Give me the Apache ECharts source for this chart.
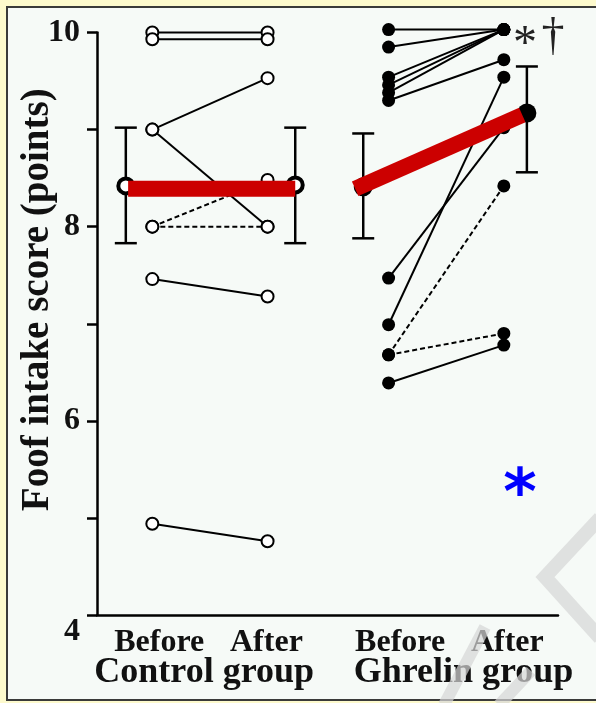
<!DOCTYPE html>
<html>
<head>
<meta charset="utf-8">
<script src="https://cdn.jsdelivr.net/npm/echarts@6/dist/echarts.min.js"></script>
<style>
html,body{margin:0;padding:0;background:#fdfacd;}
#chart{width:596px;height:703px;}
</style>
</head>
<body>
<div id="chart"></div>
<script>
// ---- data ----
const xTickLabels = ['Before', 'After', 'Before', 'After'];
const xTickPos = [0.54, 1.47, 2.63, 3.56];
const groupLabels = ['Control group', 'Ghrelin group'];
const groupLabelPos = [0.93, 3.18];
const yTickValues = [4, 5, 6, 7, 8, 9, 10];
const yTickLabels = ['4', '', '6', '', '8', '', '10'];

// x position of each time point (control before, control after, ghrelin before, ghrelin after)
const timeX = [0.48, 1.48, 2.53, 3.53];

const controlBefore = [10.0, 9.93, 9.0, 9.0, 8.0, 8.0, 7.46, 4.94];
const controlAfter  = [10.0, 9.93, 9.53, 8.0, 8.48, 8.0, 7.28, 4.76];
const controlDashed = [0, 0, 0, 0, 1, 1, 0, 0];

const ghrelinBefore = [10.03, 9.85, 9.54, 9.46, 9.38, 9.30, 7.47, 6.99, 6.68, 6.68, 6.39];
const ghrelinAfter  = [10.03, 10.03, 10.03, 10.03, 10.03, 9.72, 9.02, 9.54, 8.42, 6.90, 6.78];
const ghrelinDashed = [0, 0, 0, 0, 0, 0, 0, 0, 1, 1, 0];

// group means with error bars: control before, control after, ghrelin before, ghrelin after
const meanX    = [0.25, 1.72, 2.31, 3.73];
const meanVal  = [8.42, 8.43, 8.41, 9.17];
const errLow   = [7.83, 7.83, 7.88, 8.56];
const errHigh  = [9.02, 9.02, 8.96, 9.65];
const meanFilled = [0, 0, 0, 1];

// red overlay bars
const redControl = [[0.27, 8.39], [1.72, 8.39]];
const redGhrelin = [[2.24, 8.39], [3.69, 9.15]];

// ---- chart ----
const FONT = 'Liberation Serif';
const chart = echarts.init(document.getElementById('chart'), null, {renderer: 'canvas'});

function nearestLabel(v, pos, labels) {
  let best = 0;
  for (let i = 1; i < pos.length; i++) if (Math.abs(pos[i] - v) < Math.abs(pos[best] - v)) best = i;
  return labels[best];
}

const series = [];
function addSubjects(before, after, dashed, xb, xa) {
  for (let i = 0; i < before.length; i++) {
    series.push({
      type: 'line', xAxisIndex: 0, yAxisIndex: 0, clip: false, silent: true,
      symbol: 'none', z: 2,
      data: [[xb, before[i]], [xa, after[i]]],
      lineStyle: {color: '#000', width: 2, type: dashed[i] ? [5, 3] : 'solid'}
    });
  }
}
addSubjects(controlBefore, controlAfter, controlDashed, timeX[0], timeX[1]);
addSubjects(ghrelinBefore, ghrelinAfter, ghrelinDashed, timeX[2], timeX[3]);

series.push({
  type: 'scatter', clip: false, silent: true, z: 3, symbol: 'circle', symbolSize: 12,
  itemStyle: {color: '#ffffff', borderColor: '#000', borderWidth: 2, opacity: 1},
  data: controlBefore.map(v => [timeX[0], v]).concat(controlAfter.map(v => [timeX[1], v]))
});
series.push({
  type: 'scatter', clip: false, silent: true, z: 3, symbol: 'circle', symbolSize: 13,
  itemStyle: {color: '#000', opacity: 1},
  data: ghrelinBefore.map(v => [timeX[2], v]).concat(ghrelinAfter.map(v => [timeX[3], v]))
});

// error bars
series.push({
  type: 'custom', clip: false, silent: true, z: 4,
  data: meanX.map((x, i) => [x, errLow[i], errHigh[i]]),
  renderItem: function (params, api) {
    const x = api.value(0);
    const pLo = api.coord([x, api.value(1)]);
    const pHi = api.coord([x, api.value(2)]);
    const w = 11;
    const st = {stroke: '#000', lineWidth: 2.5};
    return {
      type: 'group', children: [
        {type: 'line', shape: {x1: pLo[0], y1: pLo[1], x2: pHi[0], y2: pHi[1]}, style: st},
        {type: 'line', shape: {x1: pLo[0] - w, y1: pLo[1], x2: pLo[0] + w, y2: pLo[1]}, style: st},
        {type: 'line', shape: {x1: pHi[0] - w, y1: pHi[1], x2: pHi[0] + w, y2: pHi[1]}, style: st}
      ]
    };
  }
});
// mean markers
series.push({
  type: 'scatter', clip: false, silent: true, z: 5, symbol: 'circle', symbolSize: 15,
  itemStyle: {color: '#ffffff', borderColor: '#000', borderWidth: 4, opacity: 1},
  data: meanX.map((x, i) => [x, meanVal[i]]).filter((d, i) => !meanFilled[i])
});
series.push({
  type: 'scatter', clip: false, silent: true, z: 5, symbol: 'circle', symbolSize: 19,
  itemStyle: {color: '#000', opacity: 1},
  data: meanX.map((x, i) => [x, meanVal[i]]).filter((d, i) => meanFilled[i])
});
// red bars
[redControl, redGhrelin].forEach(d => series.push({
  type: 'line', clip: false, silent: true, z: 8, symbol: 'none', data: d,
  lineStyle: {color: '#cc0000', width: 16, cap: 'butt'}
}));

const labelStyle = {fontFamily: FONT, fontWeight: 'bold', color: '#111'};

const option = {
  backgroundColor: '#fdfacd',
  animation: false,
  grid: {left: 97, right: 38, top: 32.5, bottom: 88, containLabel: false, outerBoundsMode: 'none'},
  xAxis: [
    {
      type: 'value', min: 0, max: 4, position: 'bottom',
      axisLine: {show: true, onZero: false, lineStyle: {color: '#000', width: 2.5}},
      axisTick: {show: false}, splitLine: {show: false},
      axisLabel: Object.assign({
        customValues: xTickPos, fontSize: 32, margin: 12,
        formatter: v => nearestLabel(v, xTickPos, xTickLabels)
      }, labelStyle)
    },
    {
      type: 'value', min: 0, max: 4, position: 'bottom',
      axisLine: {show: false}, axisTick: {show: false}, splitLine: {show: false},
      axisLabel: Object.assign({
        customValues: groupLabelPos, fontSize: 36, margin: 40,
        formatter: v => nearestLabel(v, groupLabelPos, groupLabels)
      }, labelStyle)
    }
  ],
  yAxis: {
    type: 'value', min: 4, max: 10, interval: 1,
    name: 'Foof intake score (points)', nameLocation: 'middle', nameRotate: 90, nameGap: 40,
    nameMoveOverlap: false,
    nameTextStyle: Object.assign({fontSize: 39, padding: [0, 0, 0, 48]}, labelStyle),
    axisLine: {show: true, lineStyle: {color: '#000', width: 2.5}},
    axisTick: {show: true, length: 10, lineStyle: {color: '#000', width: 2.5}},
    splitLine: {show: false},
    axisLabel: Object.assign({
      fontSize: 32, margin: 17,
      formatter: function (v) {
        const s = yTickLabels[yTickValues.indexOf(v)] || '';
        return v === yTickValues[0] ? '{low|' + s + '}' : s;
      },
      rich: {low: Object.assign({fontSize: 32, padding: [34, 0, 0, 0]}, labelStyle)}
    }, labelStyle)
  },
  graphic: [
    {type: 'rect', z: -100, silent: true, shape: {x: 7, y: 7, width: 600, height: 693},
     style: {fill: '#f6faf7', stroke: '#3a3a3a', lineWidth: 2}},
    {type: 'text', z: 100, silent: true, x: 525, y: 45,
     style: {text: '*', font: 'normal 48px "Liberation Serif"', fill: '#222', textAlign: 'center', textVerticalAlign: 'middle'}},
    {type: 'text', z: 100, silent: true, x: 553, y: 38,
     style: {text: '†', font: 'normal 46px "Liberation Serif"', fill: '#222', textAlign: 'center', textVerticalAlign: 'middle'}},
    {type: 'text', z: 100, silent: true, x: 520, y: 497,
     style: {text: '*', font: 'bold 64px "DejaVu Sans"', fill: '#0000ff', textAlign: 'center', textVerticalAlign: 'middle'}},
    {type: 'polyline', z: 100, silent: true, shape: {points: [[600, 518], [545, 577], [600, 638]]},
     style: {stroke: '#d6d6d6', lineWidth: 14, fill: null, opacity: 0.7}},
    {type: 'line', z: 100, silent: true, shape: {x1: 485, y1: 627, x2: 444, y2: 705},
     style: {stroke: '#d6d6d6', lineWidth: 12, opacity: 0.7}},
    {type: 'line', z: 100, silent: true, shape: {x1: 531, y1: 671, x2: 499, y2: 705},
     style: {stroke: '#d6d6d6', lineWidth: 12, opacity: 0.7}}
  ],
  series: series
};
chart.setOption(option);
</script>
</body>
</html>
